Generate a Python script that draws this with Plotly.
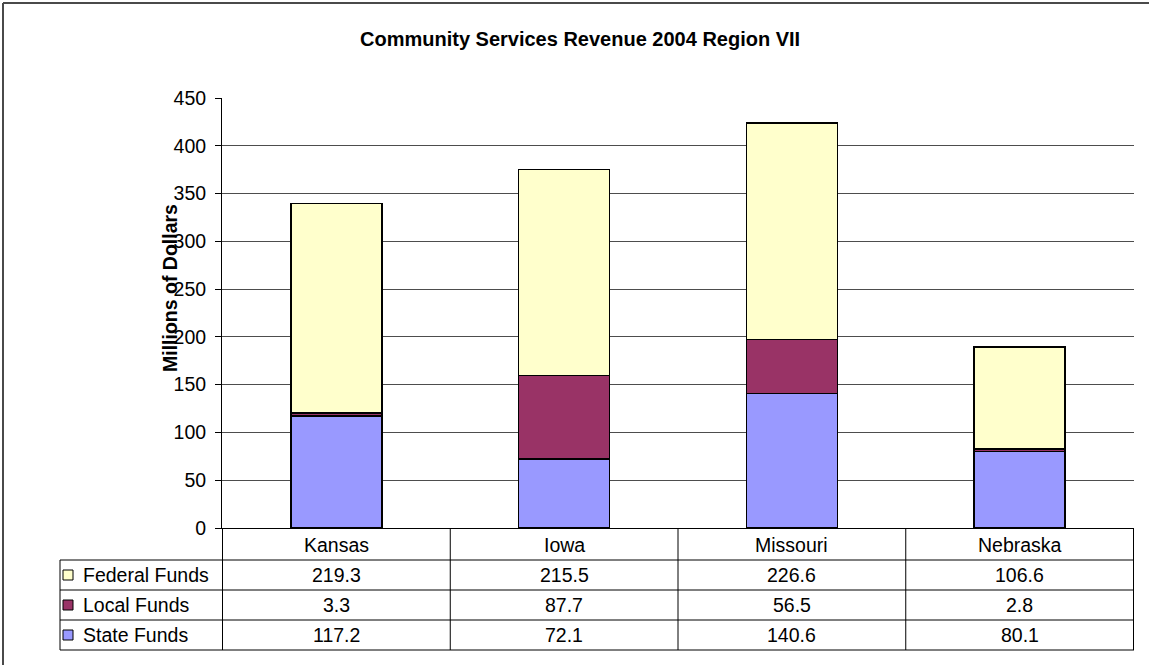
import plotly.graph_objects as go

# Community services revenue by funding source, millions of dollars
states = ["Kansas", "Iowa", "Missouri", "Nebraska"]
state_funds = [117.2, 72.1, 140.6, 80.1]
local_funds = [3.3, 87.7, 56.5, 2.8]
federal_funds = [219.3, 215.5, 226.6, 106.6]

series_names = ["Federal Funds", "Local Funds", "State Funds"]
series_colors = {"State Funds": "#9999FF", "Local Funds": "#993366", "Federal Funds": "#FFFFCC"}
series_values = {"State Funds": state_funds, "Local Funds": local_funds, "Federal Funds": federal_funds}

W, H = 1149, 665
FONT = "Liberation Sans, Arial, sans-serif"
TXT = 19.5


def px(x):
    return x / W


def py(y):
    return 1 - y / H


fig = go.Figure()
for name in ["State Funds", "Local Funds", "Federal Funds"]:
    fig.add_trace(go.Bar(
        x=states, y=series_values[name], name=name,
        marker=dict(color=series_colors[name], line=dict(color="black", width=1.5)),
        showlegend=False,
    ))

shapes = []
annotations = []

# outer chart frame (left and top edges)
frame = dict(color="#4a4a4a", width=2)
shapes.append(dict(type="line", xref="paper", yref="paper",
                   x0=px(3), x1=1, y0=py(3), y1=py(3), line=frame, layer="above"))
shapes.append(dict(type="line", xref="paper", yref="paper",
                   x0=px(3), x1=px(3), y0=0, y1=py(3), line=frame, layer="above"))

# data table under the plot: row separators
table_left, table_right = 60, 1134
row_edges = [560, 590, 620, 650]
for y in row_edges:
    shapes.append(dict(type="line", xref="paper", yref="paper",
                       x0=px(table_left), x1=px(table_right), y0=py(y), y1=py(y),
                       line=dict(color="black", width=1)))
# left edge of the legend column
shapes.append(dict(type="line", xref="paper", yref="paper",
                   x0=px(table_left), x1=px(table_left), y0=py(560), y1=py(650),
                   line=dict(color="black", width=1)))
# column separators aligned with the category axis
for i in range(len(states) + 1):
    shapes.append(dict(type="line", xref="x", yref="paper",
                       x0=i - 0.5, x1=i - 0.5, y0=py(528), y1=py(650),
                       line=dict(color="black", width=1)))

# category header row
for s in states:
    annotations.append(dict(x=s, y=py(545), xref="x", yref="paper", text=s,
                            showarrow=False, xanchor="center", yanchor="middle",
                            font=dict(family=FONT, size=TXT, color="black")))

# series rows: legend key, label, and values
row_centers = {"Federal Funds": 575, "Local Funds": 605, "State Funds": 635}
for name in series_names:
    yc = row_centers[name]
    shapes.append(dict(type="rect", xref="paper", yref="paper",
                       x0=px(63), x1=px(73), y0=py(yc + 5), y1=py(yc - 5),
                       fillcolor=series_colors[name], line=dict(color="black", width=1)))
    annotations.append(dict(x=px(81), y=py(yc), xref="paper", yref="paper", text=name,
                            showarrow=False, xanchor="left", yanchor="middle",
                            font=dict(family=FONT, size=TXT, color="black")))
    for s, v in zip(states, series_values[name]):
        annotations.append(dict(x=s, y=py(yc), xref="x", yref="paper", text=f"{v:.1f}",
                                showarrow=False, xanchor="center", yanchor="middle",
                                font=dict(family=FONT, size=TXT, color="black")))

# chart title
annotations.append(dict(x=px(580), y=py(39), xref="paper", yref="paper",
                        text="<b>Community Services Revenue 2004 Region VII</b>",
                        showarrow=False, xanchor="center", yanchor="middle",
                        font=dict(family=FONT, size=20, color="black")))
# value axis title
annotations.append(dict(x=px(170), y=py(288), xref="paper", yref="paper",
                        text="<b>Millions of Dollars</b>", textangle=-90,
                        showarrow=False, xanchor="center", yanchor="middle",
                        font=dict(family=FONT, size=TXT, color="black")))

fig.update_layout(
    width=W, height=H, autosize=False,
    margin=dict(l=0, r=0, t=0, b=0, pad=0, autoexpand=False),
    paper_bgcolor="white", plot_bgcolor="white",
    barmode="stack", bargap=0.6,
    shapes=shapes, annotations=annotations,
    xaxis=dict(domain=[px(222), px(1134)], showticklabels=False, ticks="",
               showline=True, linecolor="black", linewidth=1, showgrid=False,
               zeroline=False, fixedrange=True, automargin=False),
    yaxis=dict(domain=[py(528), py(98)], range=[0, 450], dtick=50, tick0=0,
               ticks="outside", ticklen=6, tickcolor="black",
               showline=True, linecolor="black", linewidth=1,
               showgrid=True, gridcolor="#4d4d4d", gridwidth=1, zeroline=False,
               tickfont=dict(family=FONT, size=TXT, color="black"),
               ticklabelstandoff=5, fixedrange=True, automargin=False),
)

fig.write_html("out.html")
